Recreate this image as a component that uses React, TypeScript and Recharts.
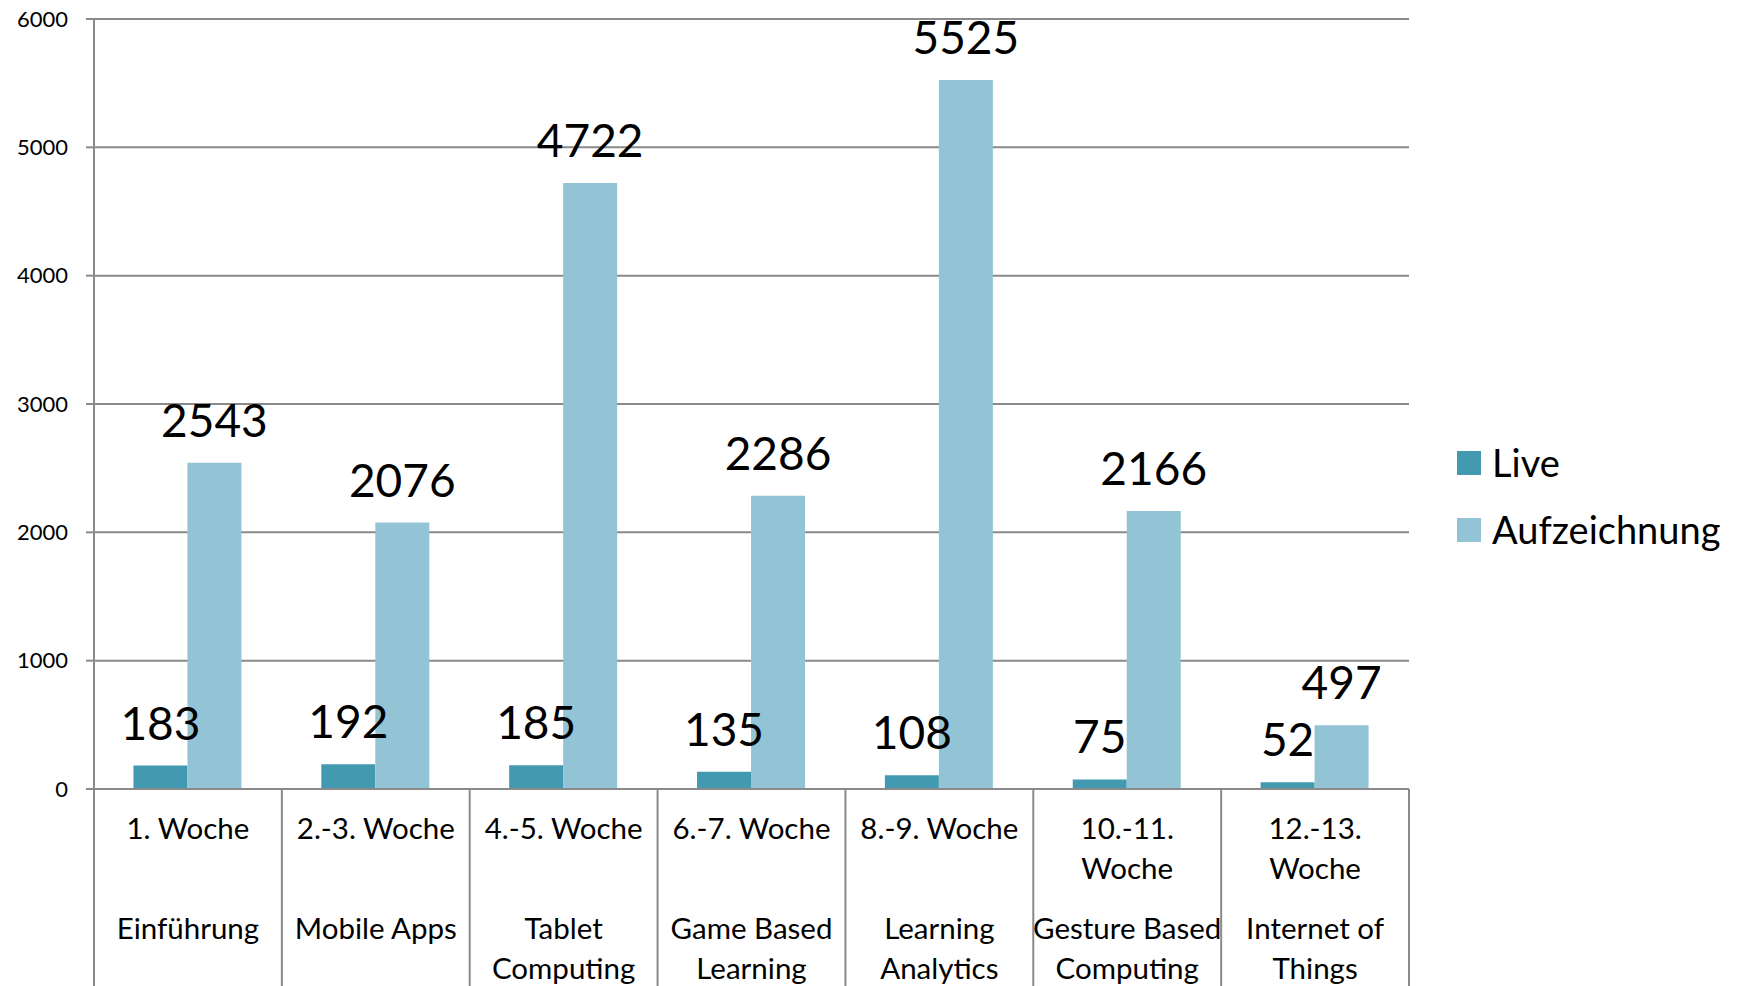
import React from "react";
import { BarChart, Bar, XAxis, YAxis, CartesianGrid, LabelList, Legend } from "recharts";

const weekLabels = [
  "1. Woche",
  "2.-3. Woche",
  "4.-5. Woche",
  "6.-7. Woche",
  "8.-9. Woche",
  "10.-11.\nWoche",
  "12.-13.\nWoche",
];
const topicLabels = [
  "Einführung",
  "Mobile Apps",
  "Tablet\nComputing",
  "Game Based\nLearning",
  "Learning\nAnalytics",
  "Gesture Based\nComputing",
  "Internet of\nThings",
];
const liveValues = [183, 192, 185, 135, 108, 75, 52];
const recordingValues = [2543, 2076, 4722, 2286, 5525, 2166, 497];
const yTicks = [0, 1000, 2000, 3000, 4000, 5000, 6000];
const seriesNames = ["Live", "Aufzeichnung"];

const data = weekLabels.map((w, i) => ({
  week: w,
  topic: topicLabels[i],
  live: liveValues[i],
  rec: recordingValues[i],
}));

const FONT = "Lato, 'Open Sans', sans-serif";
const LINE = "#8a8a8a";
const LIVE_COLOR = "#4399b0";
const REC_COLOR = "#93c4d6";
const W = 1740;
const H = 986;
const M = { top: 19, right: 331, bottom: 0, left: 0 };
const Y_W = 94;
const X_H = 197;

const CategoryTick = (props: any) => {
  const { x, y, index, payload } = props;
  const half =
    payload && payload.offset ? payload.offset : (W - M.right - M.left - Y_W) / weekLabels.length / 2;
  const week = weekLabels[index].split("\n");
  const topic = topicLabels[index].split("\n");
  const isLast = index === weekLabels.length - 1;
  return (
    <g>
      <line x1={x - half} x2={x - half} y1={y} y2={y + X_H} stroke={LINE} strokeWidth={2} />
      {isLast && <line x1={x + half} x2={x + half} y1={y} y2={y + X_H} stroke={LINE} strokeWidth={2} />}
      <text x={x} y={y + 50} textAnchor="middle" fontSize={29.5} fontFamily={FONT} fill="#000">
        {week.map((l, i) => (
          <tspan key={i} x={x} dy={i === 0 ? 0 : 40}>
            {l}
          </tspan>
        ))}
      </text>
      <text x={x} y={y + 150} textAnchor="middle" fontSize={29.5} fontFamily={FONT} fill="#000">
        {topic.map((l, i) => (
          <tspan key={i} x={x} dy={i === 0 ? 0 : 40}>
            {l}
          </tspan>
        ))}
      </text>
    </g>
  );
};

const LegendContent = () => (
  <div style={{ fontFamily: FONT }}>
    {seriesNames.map((n, i) => (
      <div key={n} style={{ display: "flex", alignItems: "center", height: 67 }}>
        <div style={{ width: 24, height: 24, background: i === 0 ? LIVE_COLOR : REC_COLOR }} />
        <span style={{ marginLeft: 11, fontSize: 38, color: "#000", lineHeight: 1.2 }}>{n}</span>
      </div>
    ))}
  </div>
);

export default function App() {
  return (
    <div style={{ position: "absolute", left: 0, top: 0, width: W, height: H, background: "#fff" }}>
      <BarChart width={W} height={H} data={data} margin={M} barCategoryGap="21%" barGap={0}>
        <CartesianGrid vertical={false} stroke={LINE} strokeWidth={2} />
        <XAxis
          dataKey="week"
          height={X_H}
          interval={0}
          tickSize={0}
          tickMargin={0}
          tickLine={false}
          axisLine={{ stroke: LINE, strokeWidth: 2 }}
          tick={<CategoryTick />}
        />
        <YAxis
          width={Y_W}
          domain={[0, 6000]}
          ticks={yTicks}
          interval={0}
          tickSize={8}
          tickMargin={18}
          axisLine={{ stroke: LINE, strokeWidth: 2 }}
          tickLine={{ stroke: LINE, strokeWidth: 2 }}
          tick={{ fontSize: 22, fontFamily: FONT, fill: "#000" }}
        />
        <Legend
          layout="vertical"
          align="center"
          verticalAlign="middle"
          wrapperStyle={{ left: 1457, top: 429, width: 283 }}
          content={<LegendContent />}
        />
        <Bar dataKey="live" name={seriesNames[0]} fill={LIVE_COLOR} isAnimationActive={false}>
          <LabelList dataKey="live" position="top" offset={26} fontSize={46} fontFamily={FONT} fill="#000" />
        </Bar>
        <Bar dataKey="rec" name={seriesNames[1]} fill={REC_COLOR} isAnimationActive={false}>
          <LabelList dataKey="rec" position="top" offset={26} fontSize={46} fontFamily={FONT} fill="#000" />
        </Bar>
      </BarChart>
    </div>
  );
}
